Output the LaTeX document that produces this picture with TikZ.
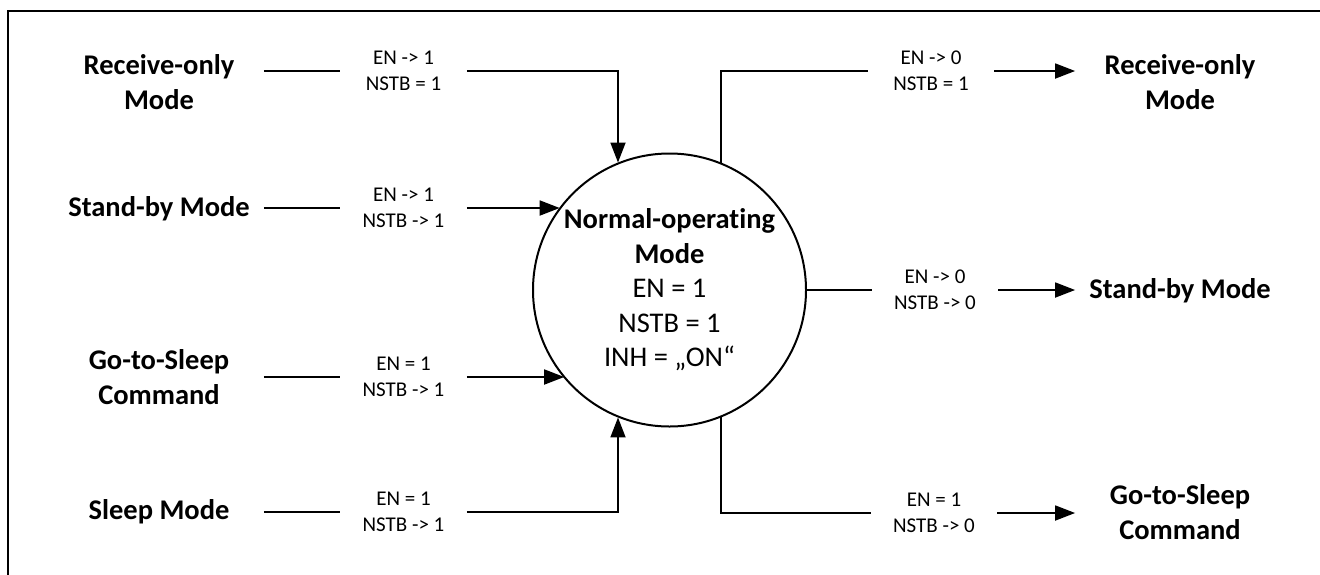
\documentclass[tikz,border=0pt]{standalone}
\usepackage{fontspec}
\setmainfont{Carlito}[Ligatures=NoCommon]
\usetikzlibrary{arrows.meta}

\begin{document}
\begin{tikzpicture}[x=1pt,y=-1pt,
		mode/.style={font=\bfseries\fontsize{28.5}{35}\selectfont,align=center,minimum width=208pt,inner sep=0pt},
		cond/.style={font=\fontsize{21}{25.5}\selectfont,align=center,minimum width=125pt,inner sep=0pt},
		arr/.style={-{Triangle[length=20pt,width=15pt]}},
		line width=1.8pt]
		\path[use as bounding box] (0,0) rectangle (1320,574);
		\draw[line width=1.3pt] (8,580) -- (8,11) -- (1330,11);
		
		\node[draw,circle,minimum size=273pt,inner sep=0pt,line width=2pt,align=center,font=\fontsize{28.5}{34.5}\selectfont] (nom) at (669.5,290) {\textbf{Normal-operat\kern0pt ing}\\\textbf{Mode}\\EN = 1\\NSTB = 1\\INH = „ON“};
		
		\node[mode] (rxL) at (159,82) {Receive-only\\Mode};
		\node[mode] (sbL) at (159,209) {Stand-by Mode};
		\node[mode] (gsL) at (159,377) {Go-to-Sleep\\Command};
		\node[mode] (slL) at (159,512) {Sleep Mode};
		
		\node[mode] (rxR) at (1180,82) {Receive-only\\Mode};
		\node[mode] (sbR) at (1180,291) {Stand-by Mode};
		\node[mode] (gsR) at (1180,512) {Go-to-Sleep\\Command};
		
		\node[cond] (c1) at (403.5,71) {EN -> 1\\NSTB = 1};
		\node[cond] (c2) at (403.5,208) {EN -> 1\\NSTB -> 1};
		\node[cond] (c3) at (403.5,377) {EN = 1\\NSTB -> 1};
		\node[cond] (c4) at (403.5,512) {EN = 1\\NSTB -> 1};
		\node[cond] (c5) at (931,71) {EN -> 0\\NSTB = 1};
		\node[cond] (c6) at (935,290) {EN -> 0\\NSTB -> 0};
		\node[cond] (c7) at (934,513) {EN = 1\\NSTB -> 0};
		
		\draw (rxL.east |- c1) -- (c1.west);
		\draw[arr] (c1.east) -| (nom.112);
		\draw (sbL.east |- c2) -- (c2.west);
		\draw[arr] (c2.east) -- (c2.east -| nom.143);
		\draw (gsL.east |- c3) -- (c3.west);
		\draw[arr] (c3.east) -- (c3.east -| nom.220);
		\draw (slL.east |- c4) -- (c4.west);
		\draw[arr] (c4.east) -| (nom.248);
		
		\draw (nom.68) |- (c5.west);
		\draw[arr] (c5.east) -- (c5.east -| rxR.west);
		\draw (nom.east) -- (c6.west);
		\draw[arr] (c6.east) -- (c6.east -| sbR.west);
		\draw (nom.292) |- (c7.west);
		\draw[arr] (c7.east) -- (c7.east -| gsR.west);
		
\end{tikzpicture}
\end{document}
